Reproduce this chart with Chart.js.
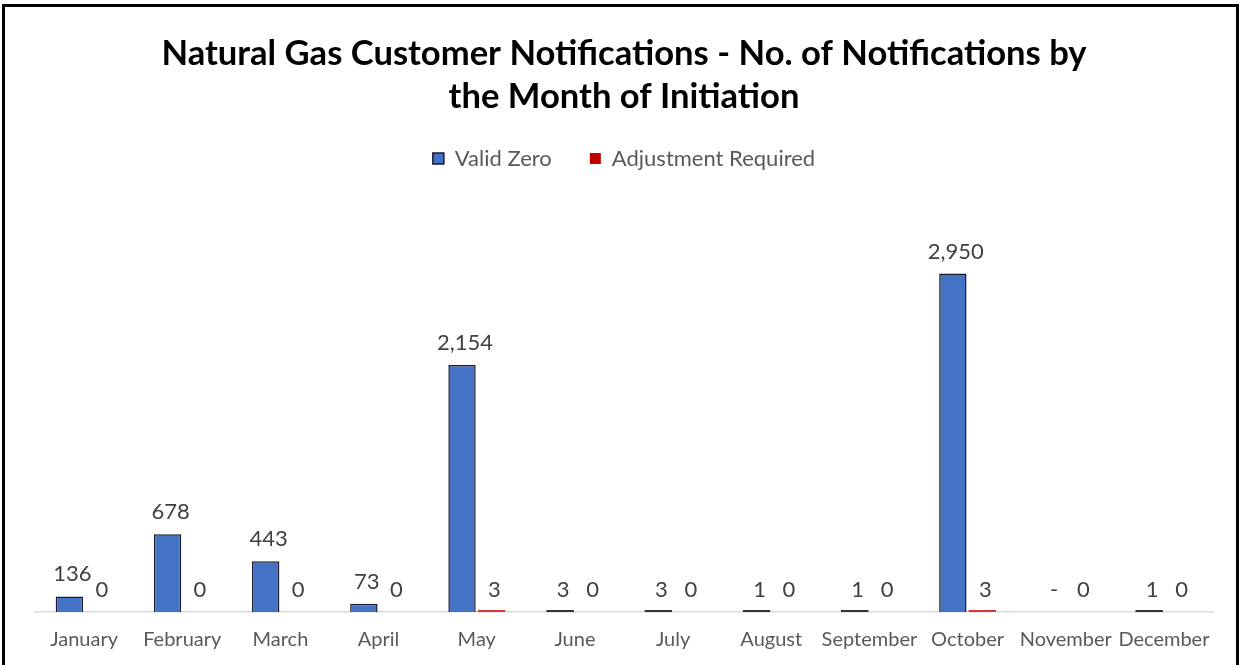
<!DOCTYPE html>
<html>
<head>
<meta charset="utf-8">
<script src="https://cdn.jsdelivr.net/npm/chart.js@4"></script>
<style>
  html, body { margin: 0; padding: 0; background: #fff; }
  #wrap { position: relative; width: 1244px; height: 665px; overflow: hidden; }
  #frame { position: absolute; left: 2px; top: 4px; width: 1231px; height: 700px; border: 3px solid #000; pointer-events: none; }
  canvas { position: absolute; left: 0; top: 0; }
</style>
</head>
<body>
<div id="wrap">
  <canvas id="chart" width="1244" height="665"></canvas>
  <div id="frame"></div>
</div>
<script>
const months = ['January', 'February', 'March', 'April', 'May', 'June', 'July', 'August', 'September', 'October', 'November', 'December'];
const validZero = [136, 678, 443, 73, 2154, 3, 3, 1, 1, 2950, 0, 1];
const adjustmentRequired = [0, 0, 0, 0, 3, 0, 0, 0, 0, 3, 0, 0];

const FONT = 'Lato, "Open Sans", sans-serif';

// data labels above the bars, plus a visible sliver for very small values
const barLabels = {
    id: 'barLabels',
    afterDatasetsDraw(chart) {
        const ctx = chart.ctx;
        ctx.save();
        ctx.font = '22px ' + FONT;
        ctx.fillStyle = '#404040';
        ctx.textAlign = 'center';
        ctx.textBaseline = 'bottom';
        chart.data.datasets.forEach((ds, i) => {
            const meta = chart.getDatasetMeta(i);
            meta.data.forEach((bar, j) => {
                const v = ds.data[j];
                if (v > 0 && bar.base - bar.y < 2) {
                    ctx.fillStyle = ds.sliverColor;
                    ctx.fillRect(bar.x - bar.width / 2, bar.base - 2, bar.width, 2);
                    ctx.fillStyle = '#404040';
                }
                let txt = v.toLocaleString('en-US');
                if (ds.dashZero && v === 0) txt = '-';
                ctx.fillText(txt, bar.x + 3, bar.y - 11);
            });
        });
        ctx.restore();
    }
};

const ctx = document.getElementById('chart').getContext('2d');
new Chart(ctx, {
    type: 'bar',
    data: {
        labels: months,
        datasets: [{
            label: 'Valid Zero',
            data: validZero,
            backgroundColor: '#4472C4',
            borderColor: '#1a1a2a',
            borderWidth: 1.5,
            borderSkipped: 'bottom',
            sliverColor: '#333333',
            dashZero: true
        }, {
            label: 'Adjustment Required',
            data: adjustmentRequired,
            backgroundColor: '#C00000',
            borderWidth: 0,
            sliverColor: '#d03a3a'
        }]
    },
    options: {
        responsive: false,
        animation: false,
        categoryPercentage: 0.6,
        barPercentage: 0.93,
        layout: { padding: { left: 35, right: 31, top: 0, bottom: 5 } },
        plugins: {
            title: {
                display: true,
                text: ['Natural Gas Customer Notifications - No. of Notifications by', 'the Month of Initiation'],
                color: '#000',
                font: { family: FONT, size: 34.6, weight: 'bold', lineHeight: 1.25 },
                padding: { top: 32, bottom: -9 }
            },
            legend: {
                display: true,
                labels: {
                    color: '#595959',
                    font: { family: FONT, size: 22 },
                    boxWidth: 11,
                    boxHeight: 11,
                    padding: 38,
                    useBorderRadius: false
                }
            },
            tooltip: { enabled: false }
        },
        scales: {
            x: {
                grid: { display: false },
                border: { display: true, color: '#D9D9D9', width: 1.5 },
                ticks: { color: '#595959', font: { family: FONT, size: 20 }, padding: 8, maxRotation: 0, autoSkip: false }
            },
            y: {
                display: false,
                min: 0,
                max: 3770
            }
        }
    },
    plugins: [barLabels]
});
</script>
</body>
</html>
